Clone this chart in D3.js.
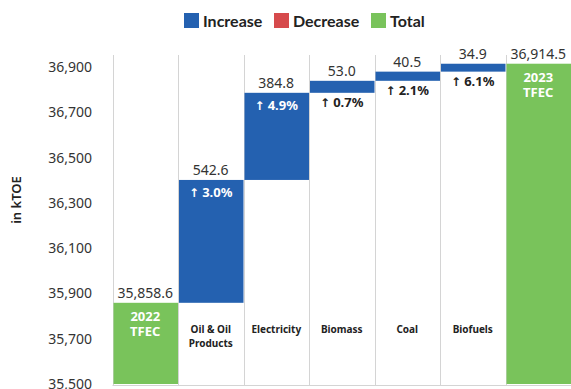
<!DOCTYPE html>
<html>
<head>
<meta charset="utf-8">
<script src="https://cdn.jsdelivr.net/npm/d3@7"></script>
<style>
  html, body { margin: 0; padding: 0; background: #fff; }
  svg { display: block; font-family: "Noto Sans", "Open Sans", sans-serif; }
</style>
</head>
<body>
<svg id="chart" width="571" height="389"></svg>
<script>
// Energy consumption bridge: 2022 TFEC -> 2023 TFEC, in kTOE
const categories = ["2022 TFEC", "Oil & Oil Products", "Electricity", "Biomass", "Coal", "Biofuels", "2023 TFEC"];
const labelLines = [["2022", "TFEC"], ["Oil & Oil", "Products"], ["Electricity"], ["Biomass"], ["Coal"], ["Biofuels"], ["2023", "TFEC"]];
const stepTypes = ["total", "increase", "increase", "increase", "increase", "increase", "total"];
const stepValues = [35858.6, 542.6, 384.8, 53.0, 40.5, 34.9, 36914.5];
const pctChange = [null, 3.0, 4.9, 0.7, 2.1, 6.1, null];
const yTicks = [35500, 35700, 35900, 36100, 36300, 36500, 36700, 36900];
const legendItems = ["Increase", "Decrease", "Total"];

const colors = { increase: "#2461b0", decrease: "#d64a4c", total: "#79c35b" };
const axisMin = 35500;

const svg = d3.select("#chart");
const plot = { left: 112.5, right: 571, top: 55, bottom: 385 };

const x = d3.scaleBand().domain(categories).range([plot.left, plot.right]).padding(0);
const y = d3.scaleLinear().domain([35500, 36900]).range([384, 67]);

// running totals for the waterfall
let running = 0;
const steps = categories.map((c, i) => {
  let start, end;
  if (stepTypes[i] === "total") {
    start = axisMin; end = stepValues[i]; running = stepValues[i];
  } else {
    start = running;
    end = stepTypes[i] === "increase" ? running + stepValues[i] : running - stepValues[i];
    running = end;
  }
  return { cat: c, type: stepTypes[i], value: stepValues[i], start, end, pct: pctChange[i], lines: labelLines[i] };
});

// vertical grid lines at category boundaries
const bounds = categories.map(c => x(c)).concat([plot.right - 0.5]);
svg.append("g").selectAll("line").data(bounds).join("line")
  .attr("x1", d => Math.round(d) + 0.5).attr("x2", d => Math.round(d) + 0.5)
  .attr("y1", plot.top).attr("y2", plot.bottom)
  .attr("stroke", "#d4d4d4").attr("stroke-width", 1);
svg.append("line")
  .attr("x1", plot.left).attr("x2", plot.right)
  .attr("y1", plot.bottom + 0.5).attr("y2", plot.bottom + 0.5)
  .attr("stroke", "#d4d4d4");

// y axis (labels only)
const yAxis = d3.axisLeft(y).tickValues(yTicks).tickFormat(d3.format(",")).tickSize(0).tickPadding(0);
const gy = svg.append("g").attr("transform", "translate(92,0)").call(yAxis);
gy.select(".domain").remove();
gy.selectAll("text").attr("font-size", 14).attr("fill", "#333")
  .attr("font-family", "'Noto Sans', sans-serif").attr("dy", "0.32em");

svg.append("text")
  .attr("transform", "translate(21,200) rotate(-90)")
  .attr("text-anchor", "middle")
  .attr("font-size", 13).attr("font-weight", 600).attr("fill", "#222")
  .text("in kTOE");

// bars
const bars = svg.append("g");
bars.selectAll("rect").data(steps).join("rect")
  .attr("x", d => x(d.cat) + 1)
  .attr("width", x.bandwidth() - 1)
  .attr("y", d => y(Math.max(d.start, d.end)))
  .attr("height", d => Math.abs(y(d.start) - y(d.end)))
  .attr("fill", d => colors[d.type]);

const fmtVal = v => d3.format(",.1f")(v);
const cx = d => x(d.cat) + x.bandwidth() / 2;

// value labels above bars
svg.append("g").selectAll("text").data(steps).join("text")
  .attr("x", cx)
  .attr("y", d => y(Math.max(d.start, d.end)) - 5)
  .attr("text-anchor", "middle")
  .attr("font-size", 14).attr("fill", "#333")
  .text(d => fmtVal(d.value));

// percentage change labels
svg.append("g").selectAll("text").data(steps.filter(d => d.pct !== null)).join("text")
  .attr("x", cx)
  .attr("text-anchor", "middle")
  .attr("font-size", 13).attr("font-weight", 700)
  .each(function (d) {
    const top = y(Math.max(d.start, d.end));
    const bottom = y(Math.min(d.start, d.end));
    const inside = bottom - top > 24;
    const t = d3.select(this)
      .attr("y", inside ? top + 17 : bottom + 14)
      .attr("fill", inside ? "#fff" : "#222");
    t.append("tspan").attr("font-size", 12).attr("font-weight", 700)
      .attr("font-family", "'DejaVu Sans', sans-serif")
      .text(d.type === "increase" ? "\u2191" : "\u2193");
    t.append("tspan").attr("dx", 3).text(d3.format(".1f")(d.pct) + "%");
  });

// category labels: inside totals (white), below in the band for steps
const catG = svg.append("g");
steps.forEach(d => {
  if (d.type === "total") {
    const top = y(d.end);
    const t = catG.append("text").attr("text-anchor", "middle")
      .attr("font-size", 13).attr("font-weight", 700).attr("fill", "#fff");
    d.lines.forEach((ln, i) => t.append("tspan").attr("x", cx(d)).attr("y", top + 18 + i * 15).text(ln));
  } else {
    const t = catG.append("text").attr("text-anchor", "middle")
      .attr("font-size", 10).attr("font-weight", 700).attr("fill", "#222");
    d.lines.forEach((ln, i) => t.append("tspan").attr("x", cx(d)).attr("y", 333 + i * 14).text(ln));
  }
});

// legend
const legend = svg.append("g").attr("transform", "translate(184,13)");
const legendX = [0, 90, 187];
legendItems.forEach((name, i) => {
  const g = legend.append("g").attr("transform", `translate(${legendX[i]},0)`);
  g.append("rect").attr("width", 15).attr("height", 15).attr("fill", colors[name.toLowerCase()]);
  g.append("text").attr("x", 19).attr("y", 13.5).attr("font-size", 16).attr("font-weight", 700)
    .attr("font-family", "Lato, sans-serif")
    .attr("fill", "#222").text(name);
});
</script>
</body>
</html>
